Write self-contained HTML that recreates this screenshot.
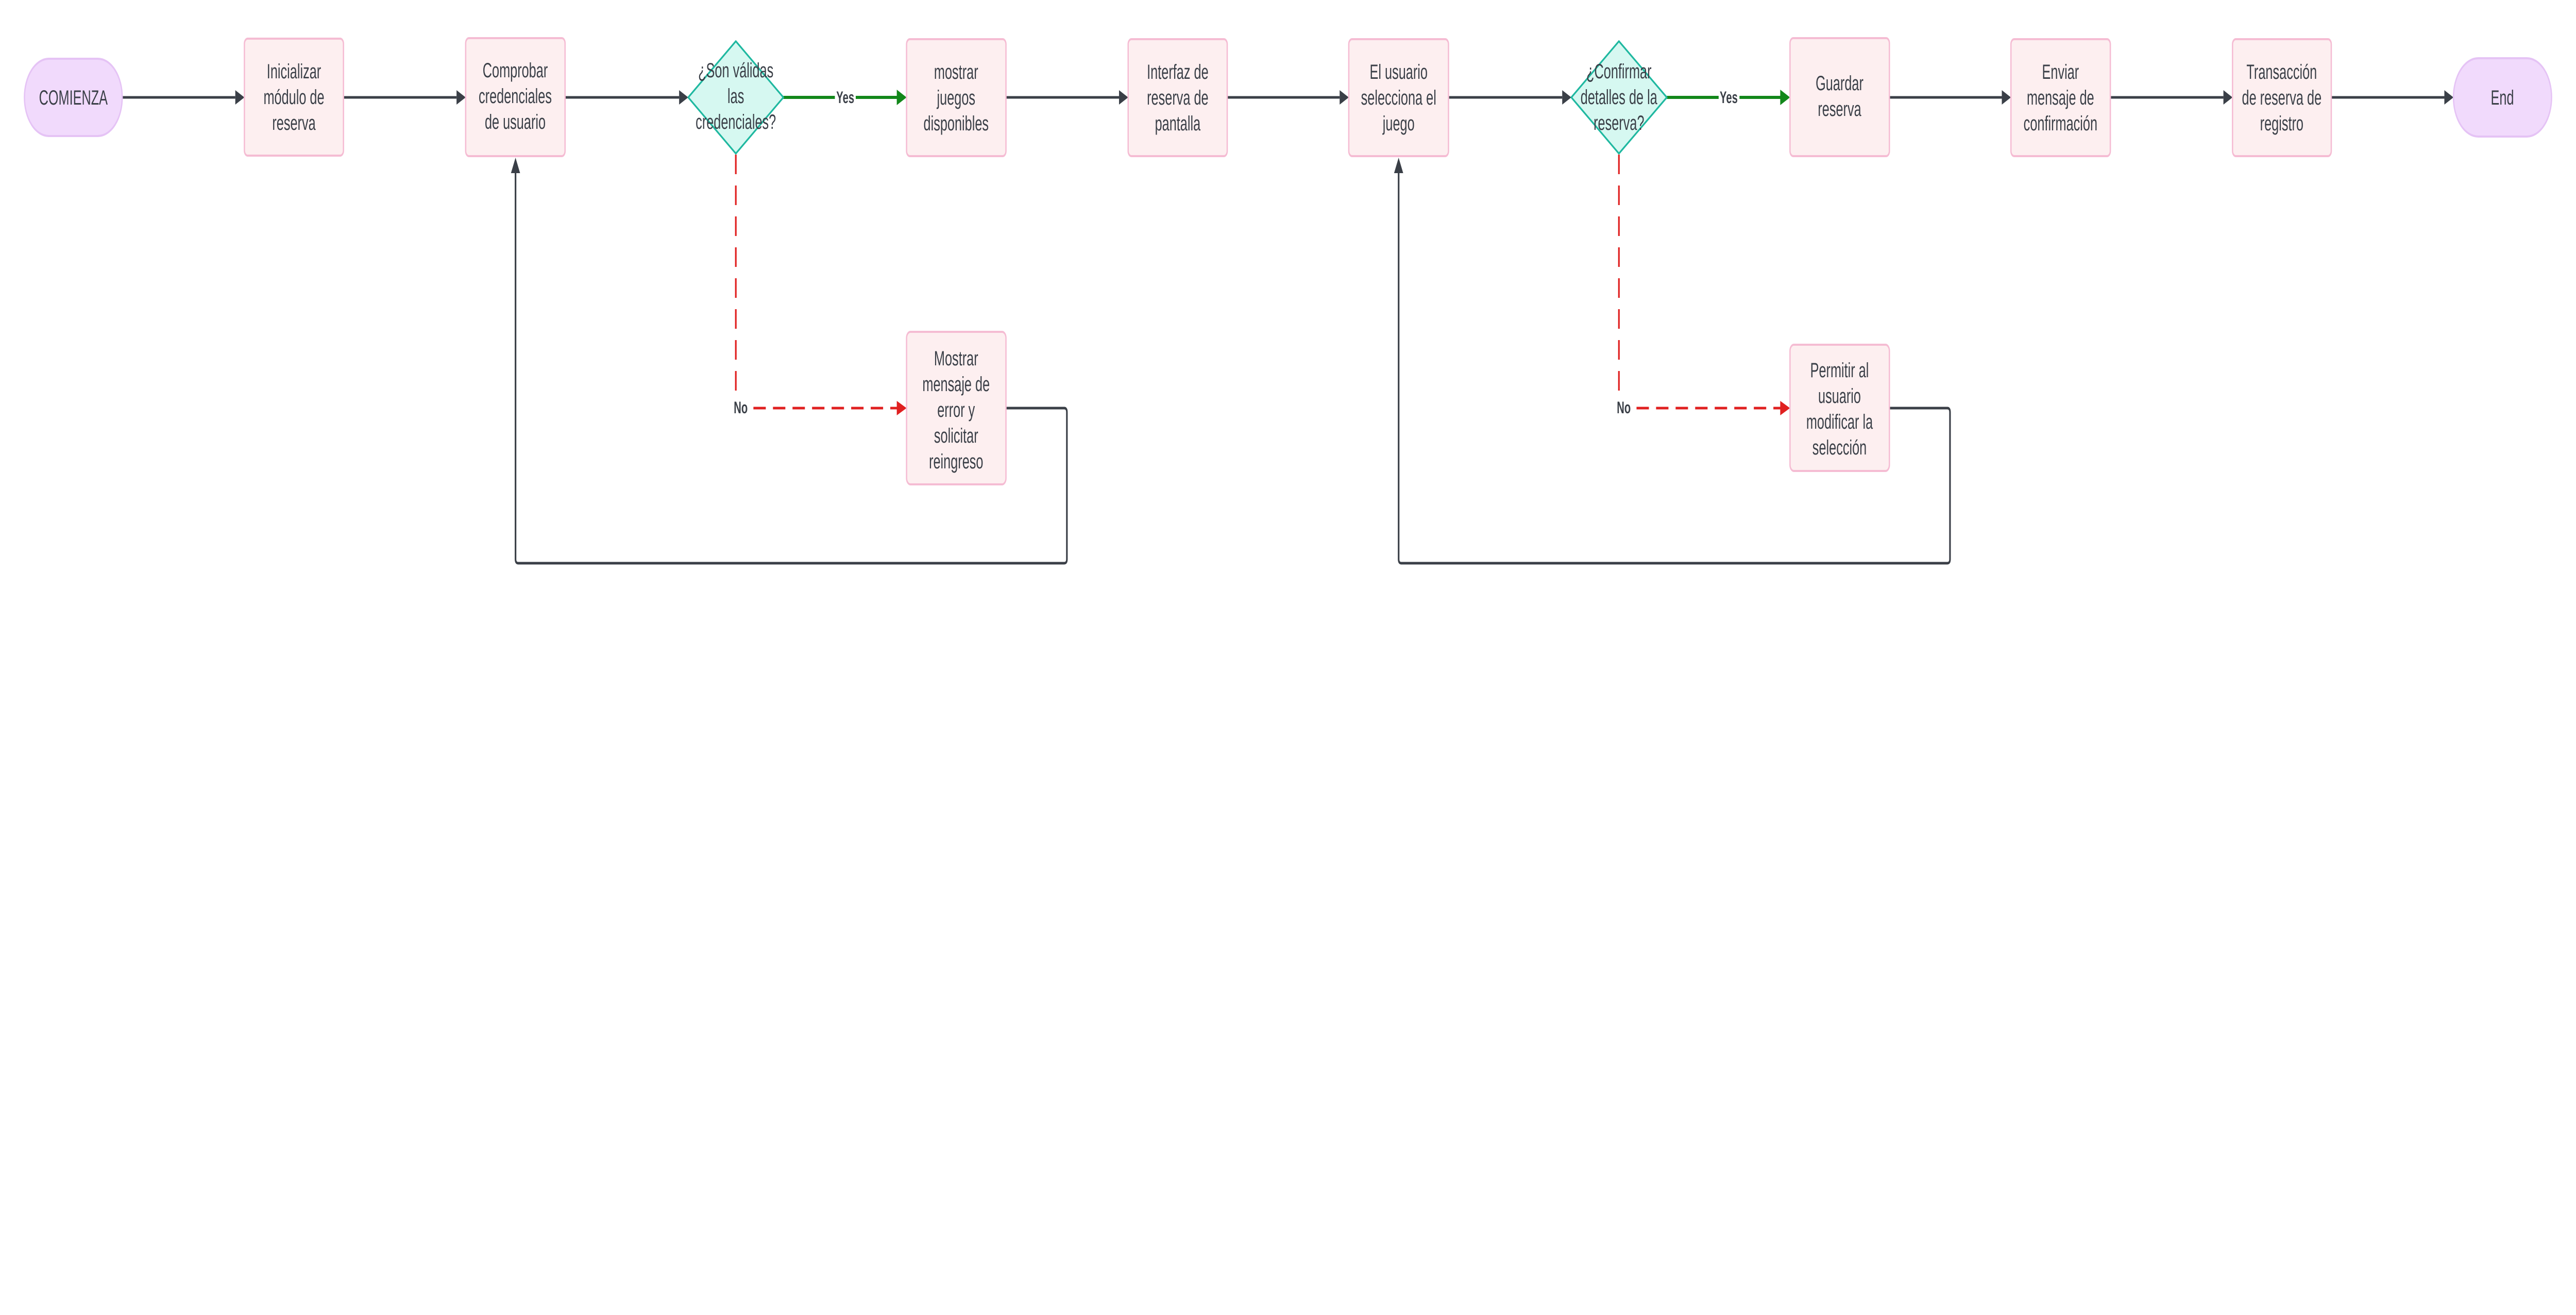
<!DOCTYPE html>
<html><head><meta charset="utf-8"><style>
html,body{margin:0;padding:0;background:#fff;width:100%;height:100%;overflow:hidden;}
svg{display:block;position:absolute;left:0;top:0;width:100vw;height:100vh;}
text{font-family:"Liberation Sans",Arial,sans-serif;fill:#3a3f47;}
</style></head><body>
<svg viewBox="0 0 7905 2552" preserveAspectRatio="none" xmlns="http://www.w3.org/2000/svg">
<g fill="none" stroke-linejoin="round">
<g stroke="#3a3f47" stroke-width="5">
<line x1="375" y1="189" x2="722" y2="189"/>
<line x1="1054" y1="189" x2="1401" y2="189"/>
<line x1="1734" y1="189" x2="2084" y2="189"/>
<line x1="3087" y1="189" x2="3434" y2="189"/>
<line x1="3766" y1="189" x2="4111" y2="189"/>
<line x1="4445" y1="189" x2="4794" y2="189"/>
<line x1="5798" y1="189" x2="6143" y2="189"/>
<line x1="6476" y1="189" x2="6823" y2="189"/>
<line x1="7154" y1="189" x2="7501" y2="189"/>
<path d="M3087,792 H3266 Q3274,792 3274,800 V1085 Q3274,1093 3266,1093 H1590 Q1582,1093 1582,1085 V334"/>
<path d="M5798,792 H5976 Q5984,792 5984,800 V1085 Q5984,1093 5976,1093 H4300 Q4292,1093 4292,1085 V334"/>
</g>
<g fill="#3a3f47">
<path d="M722,175 L750,189 L722,203z"/>
<path d="M1401,175 L1429,189 L1401,203z"/>
<path d="M2084,175 L2112,189 L2084,203z"/>
<path d="M3434,175 L3462,189 L3434,203z"/>
<path d="M4111,175 L4139,189 L4111,203z"/>
<path d="M4794,175 L4822,189 L4794,203z"/>
<path d="M6143,175 L6171,189 L6143,203z"/>
<path d="M6823,175 L6851,189 L6823,203z"/>
<path d="M7501,175 L7529,189 L7501,203z"/>
<path d="M1568,336 L1582,306 L1596,336z"/>
<path d="M4278,336 L4292,306 L4306,336z"/>
</g>
<g stroke="#12871a" stroke-width="6">
<line x1="2404" y1="189" x2="2754" y2="189"/>
<line x1="5115" y1="189" x2="5465" y2="189"/>
</g>
<g fill="#12871a">
<path d="M2752,174 L2782,189 L2752,204z"/>
<path d="M5463,174 L5493,189 L5463,204z"/>
</g>
<g stroke="#e02020" stroke-width="5" stroke-dasharray="38,22">
<line x1="2258" y1="300" x2="2258" y2="775"/>
<line x1="2312" y1="792" x2="2754" y2="792"/>
<line x1="4968" y1="300" x2="4968" y2="775"/>
<line x1="5022" y1="792" x2="5465" y2="792"/>
</g>
<g fill="#e02020">
<path d="M2752,778 L2782,792 L2752,806z"/>
<path d="M5463,778 L5493,792 L5463,806z"/>
</g>
<g fill="#fff" stroke="none">
<rect x="2562" y="170" width="64" height="38"/>
<rect x="5274" y="170" width="64" height="38"/>
<rect x="2248" y="774" width="50" height="36"/>
<rect x="4958" y="774" width="50" height="36"/>
</g>
<g fill="#f1dafc" stroke="#e5c3f5" stroke-width="4">
<rect x="75" y="114" width="300" height="150" rx="75"/>
<rect x="7529" y="113" width="301" height="152" rx="76"/>
</g>
<g fill="#fdeff0" stroke="#f5bcd3" stroke-width="4">
<rect x="750" y="75" width="304" height="227" rx="10"/>
<rect x="1429" y="74" width="305" height="229" rx="10"/>
<rect x="2782" y="76" width="305" height="227" rx="10"/>
<rect x="3462" y="76" width="304" height="227" rx="10"/>
<rect x="4139" y="76" width="306" height="227" rx="10"/>
<rect x="5493" y="74" width="305" height="229" rx="10"/>
<rect x="6171" y="76" width="305" height="227" rx="10"/>
<rect x="6851" y="76" width="303" height="227" rx="10"/>
<rect x="2782" y="644" width="305" height="296" rx="12"/>
<rect x="5493" y="669" width="305" height="245" rx="12"/>
</g>
<g fill="#d6f8f1" stroke="#1fb8a0" stroke-width="4">
<path d="M2258,80 L2404,189 L2258,298 L2112,189z"/>
<path d="M4968,80 L5115,189 L4968,298 L4822,189z"/>
</g>
</g>
<g font-size="40" text-anchor="middle">
<text x="225" y="203">COMIENZA</text>
<text x="7679" y="203">End</text>
<text><tspan x="902" y="152">Inicializar</tspan><tspan x="902" y="202">módulo de</tspan><tspan x="902" y="252">reserva</tspan></text>
<text><tspan x="1581" y="150">Comprobar</tspan><tspan x="1581" y="200">credenciales</tspan><tspan x="1581" y="250">de usuario</tspan></text>
<text><tspan x="2258" y="150">¿Son válidas</tspan><tspan x="2258" y="200">las</tspan><tspan x="2258" y="250">credenciales?</tspan></text>
<text><tspan x="2934" y="153">mostrar</tspan><tspan x="2934" y="203">juegos</tspan><tspan x="2934" y="253">disponibles</tspan></text>
<text><tspan x="3614" y="153">Interfaz de</tspan><tspan x="3614" y="203">reserva de</tspan><tspan x="3614" y="253">pantalla</tspan></text>
<text><tspan x="4292" y="153">El usuario</tspan><tspan x="4292" y="203">selecciona el</tspan><tspan x="4292" y="253">juego</tspan></text>
<text><tspan x="4968" y="152">¿Confirmar</tspan><tspan x="4968" y="202">detalles de la</tspan><tspan x="4968" y="252">reserva?</tspan></text>
<text><tspan x="5645" y="175">Guardar</tspan><tspan x="5645" y="225">reserva</tspan></text>
<text><tspan x="6323" y="153">Enviar</tspan><tspan x="6323" y="203">mensaje de</tspan><tspan x="6323" y="253">confirmación</tspan></text>
<text><tspan x="7002" y="153">Transacción</tspan><tspan x="7002" y="203">de reserva de</tspan><tspan x="7002" y="253">registro</tspan></text>
<text><tspan x="2934" y="709">Mostrar</tspan><tspan x="2934" y="759">mensaje de</tspan><tspan x="2934" y="809">error y</tspan><tspan x="2934" y="859">solicitar</tspan><tspan x="2934" y="909">reingreso</tspan></text>
<text><tspan x="5645" y="732">Permitir al</tspan><tspan x="5645" y="782">usuario</tspan><tspan x="5645" y="832">modificar la</tspan><tspan x="5645" y="882">selección</tspan></text>
</g>
<g font-size="32" font-weight="bold" text-anchor="middle">
<text x="2594" y="200">Yes</text>
<text x="5305" y="200">Yes</text>
<text x="2273" y="802">No</text>
<text x="4983" y="802">No</text>
</g>
</svg>
</body></html>
